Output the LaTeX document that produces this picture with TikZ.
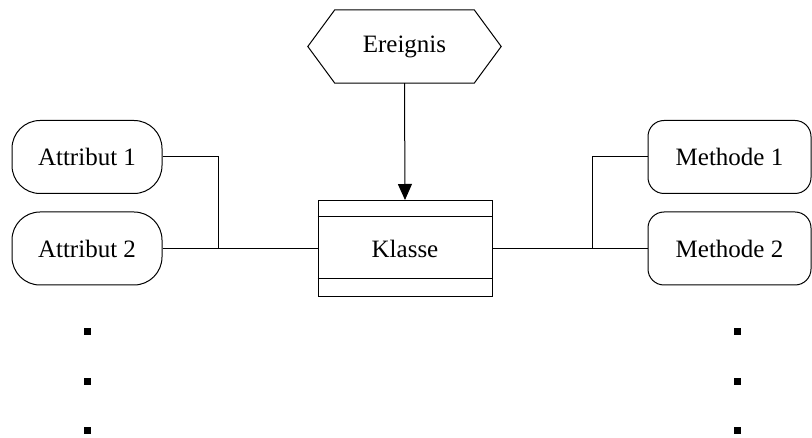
\documentclass[tikz,border=0pt]{standalone}
\usepackage{fontspec}
\setmainfont{Liberation Serif}
\usetikzlibrary{arrows.meta}
\begin{document}
\begin{tikzpicture}[x=1pt,y=-1pt,
  every node/.style={font=\fontsize{25}{29}\selectfont, inner sep=0pt},
  attr/.style={draw, line width=1pt, rounded corners=28pt, minimum width=150pt, minimum height=73pt},
  meth/.style={draw, line width=1pt, rounded corners=16pt, minimum width=163pt, minimum height=73pt},
  conn/.style={line width=1pt},
  dotsq/.style={fill=black, minimum size=7pt}]
\useasboundingbox (0,0) rectangle (812,438);
% event hexagon
\node (ev) at (404.5,46.5) [minimum width=193pt, minimum height=73pt] {Ereignis};
\draw[line width=1pt] (ev.west) -- ([xshift=27pt]ev.north west) -- ([xshift=-27pt]ev.north east)
  -- (ev.east) -- ([xshift=-27pt]ev.south east) -- ([xshift=27pt]ev.south west) -- cycle;
% class box
\node (kl) at (405,248.5) [draw, line width=1pt, minimum width=174pt, minimum height=96pt] {Klasse};
\draw[line width=1pt] ([yshift=-17pt]kl.north west) -- ([yshift=-17pt]kl.north east);
\draw[line width=1pt] ([yshift=18pt]kl.south west) -- ([yshift=18pt]kl.south east);
% attributes
\node (a1) at (87,157) [attr] {Attribut 1};
\node (a2) at (87,248.5) [attr] {Attribut 2};
% methods
\node (m1) at (729.5,157) [meth] {Methode 1};
\node (m2) at (729.5,248.5) [meth] {Methode 2};
% junctions
\coordinate (jl) at (218,248.5);
\coordinate (jr) at (592,248.5);
% connectors
\draw[-{Triangle[length=16pt,width=14pt]}, line width=1pt] (ev.south) -- (kl.north);
\draw[conn] (a1.east) -| (jl);
\draw[conn] (a2.east) -- (kl.west);
\draw[conn] (m1.west) -| (jr);
\draw[conn] (kl.east) -- (m2.west);
% dots
\node (dl1) at (87,332) [dotsq] {};
\node (dl2) at (87,382) [dotsq] {};
\node (dl3) at (87,431) [dotsq] {};
\node (dr1) at (737,332) [dotsq] {};
\node (dr2) at (737,382) [dotsq] {};
\node (dr3) at (737,431) [dotsq] {};
\end{tikzpicture}
\end{document}
